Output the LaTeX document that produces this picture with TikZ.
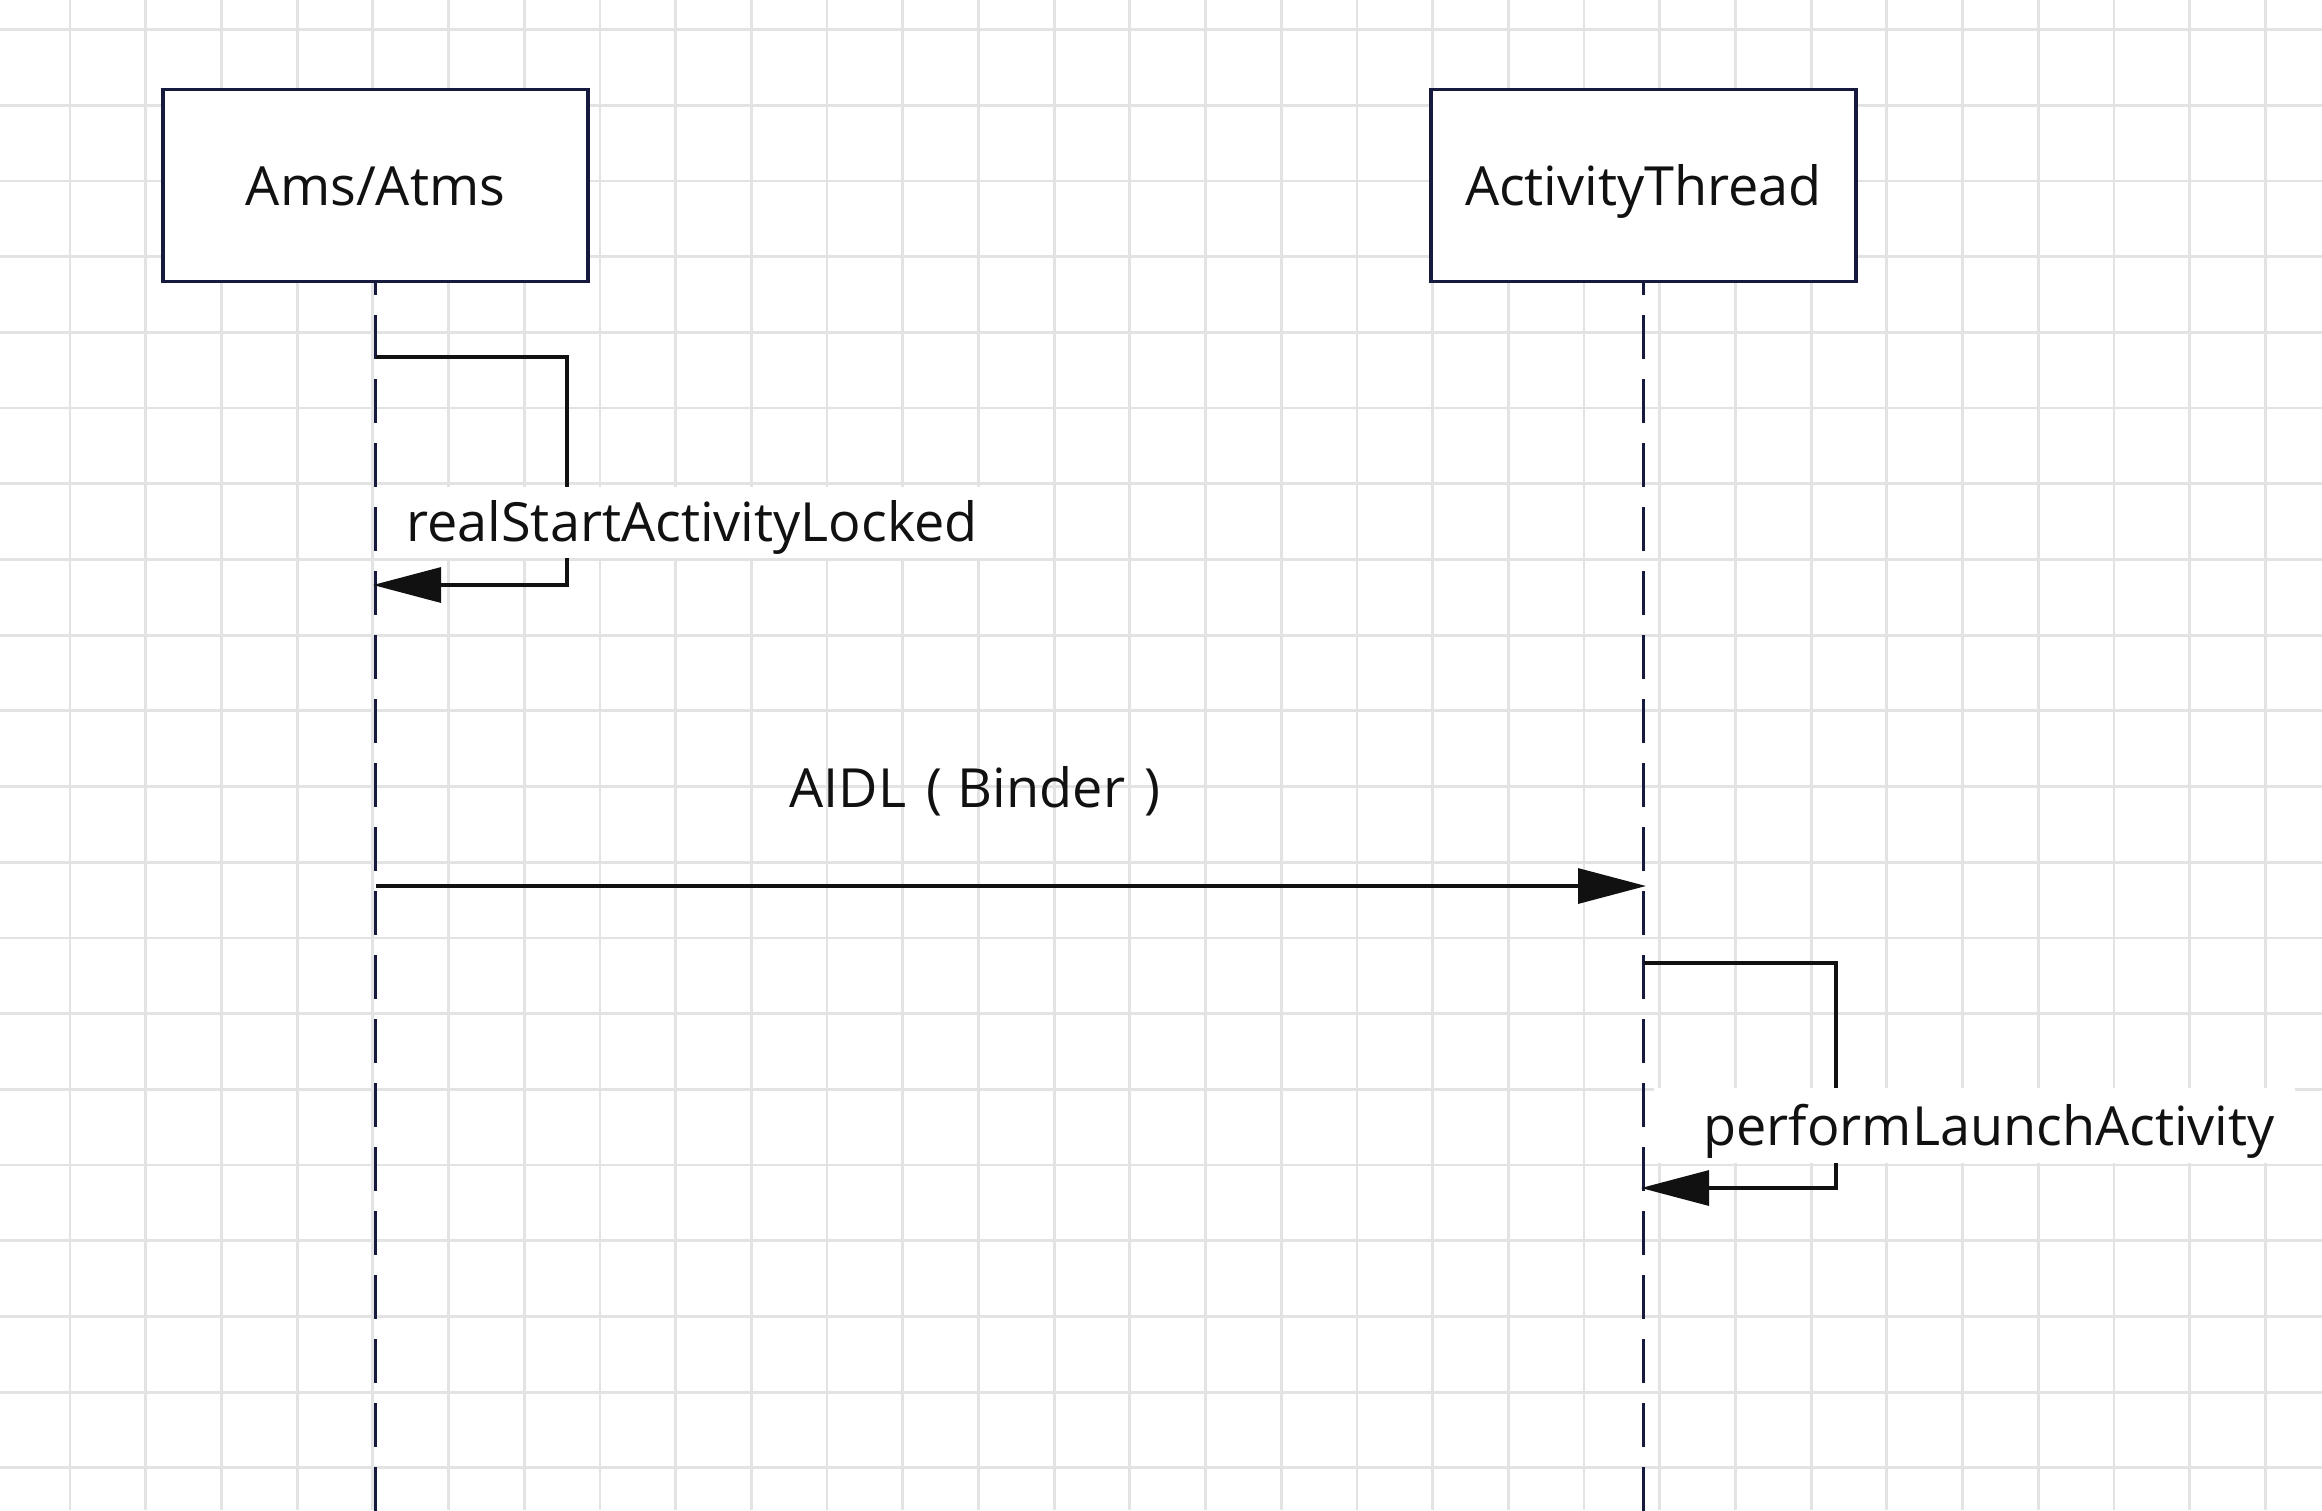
\documentclass[tikz,border=0pt]{standalone}
\usepackage{fontspec}
\setmainfont{Open Sans}
\usetikzlibrary{arrows.meta}
\definecolor{gridgray}{HTML}{E3E3E3}
\definecolor{navy}{HTML}{161A3D}
\definecolor{inkblack}{HTML}{111111}
\begin{document}
\begin{tikzpicture}[x=0.5pt,y=-0.5pt,
  gridline/.style={draw=gridgray,line width=1.4pt},
  actor/.style={draw=navy,line width=1.8pt,fill=white,minimum width=212.5pt,minimum height=96pt,
    inner sep=0pt,text height=19.5pt,text depth=0pt,font=\fontsize{27}{32}\selectfont,text=inkblack},
  lifeline/.style={draw=navy,line width=1.5pt,dash pattern=on 22pt off 10pt,dash phase=16pt},
  msg/.style={draw=inkblack,line width=1.6pt,-{Triangle[length=34pt,width=17.5pt]}},
  msglabel/.style={font=\fontsize{27}{32}\selectfont,text=inkblack,inner sep=0pt},
  boxlabel/.style={msglabel,fill=white,anchor=base west},
]
% canvas
\fill[white] (0,0) rectangle (2322,1510);
\useasboundingbox (0,0) rectangle (2322,1510);
% grid
\foreach \i in {0,...,29} \draw[gridline] ({70+75.7*\i},0) -- ++(0,1510);
\foreach \j in {0,...,19} \draw[gridline] (0,{29.5+75.7*\j}) -- ++(2322,0);

% lifeline ends
\coordinate (Aend) at (375.5,1515);
\coordinate (Bend) at (1643.5,1515);
% message points on lifelines
\coordinate (a1) at (375.5,357);
\coordinate (a2) at (373,585);
\coordinate (a3) at (375.5,886);
\coordinate (b1) at (1646,886);
\coordinate (b2) at (1643.5,963);
\coordinate (b3) at (1641,1188);

% actors
\node[actor] (A) at (375.5,185.5) {Ams/Atms};
\node[actor] (B) at (1643.5,185.5) {ActivityThread};

% lifelines
\draw[lifeline] (A.south) -- (Aend);
\draw[lifeline] (B.south) -- (Bend);

% messages
\draw[msg] (a1) -- ++(191.5,0) -- ++(0,228) -- (a2);
\draw[msg] (a3) -- (b1);
\draw[msg] (b2) -- ++(192.5,0) -- ++(0,225) -- (b3);

% labels
\node[boxlabel,text height=27pt,text depth=8.5pt] (l1) at (378,541)
  {\hspace*{14pt}realStartActivityLocked\hspace*{6pt}};
\node[msglabel,anchor=base west] (l2) at (789,807)
  {AIDL\hspace{10pt}(\hspace{8pt}Binder\hspace{9.5pt})};
\node[boxlabel,text height=28.5pt,text depth=9pt] (l3) at (1654,1145)
  {\hspace*{24.5pt}performLaunchActivity\hspace*{10pt}};
\end{tikzpicture}
\end{document}
